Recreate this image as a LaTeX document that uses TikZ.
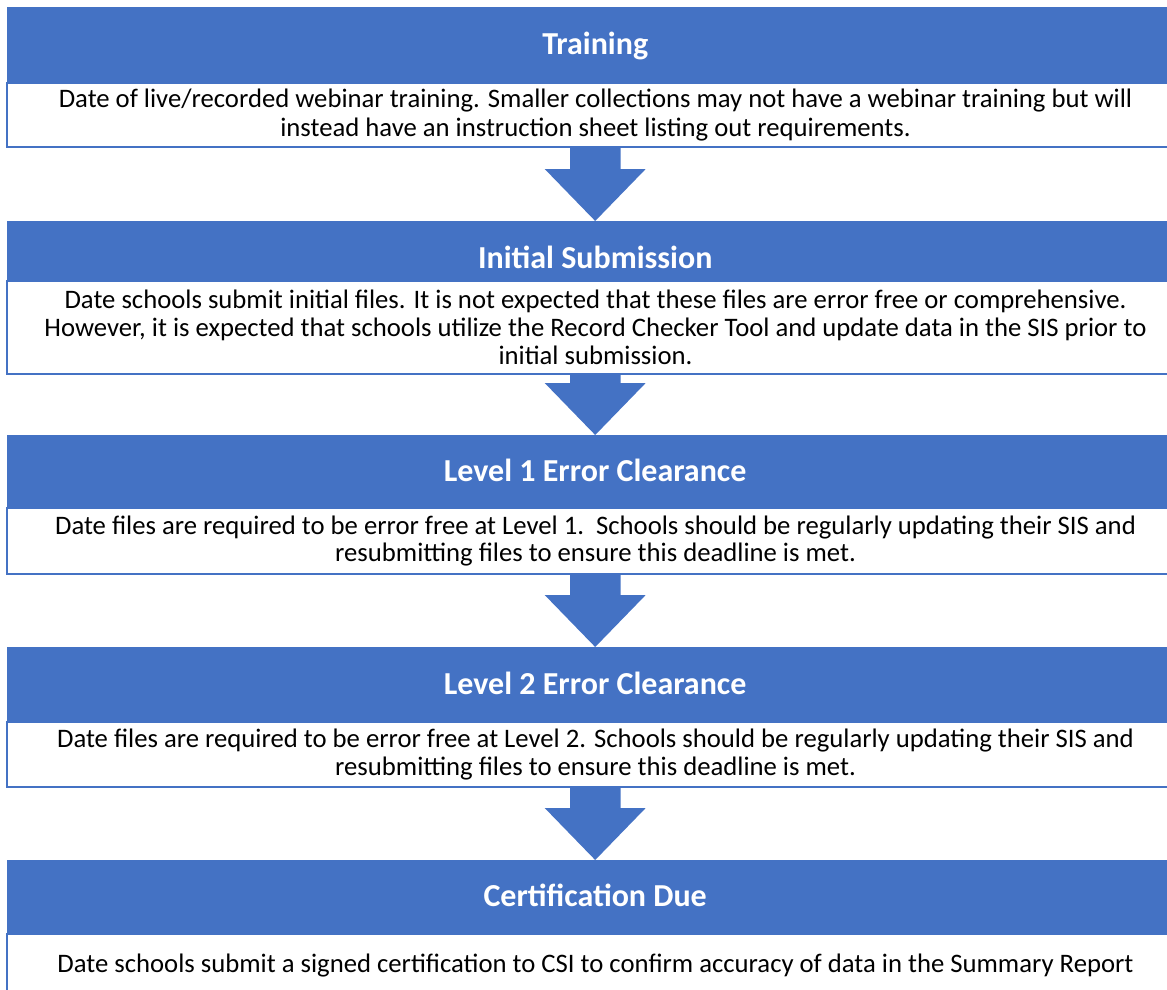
\documentclass[tikz,border=0pt]{standalone}
\usepackage{fontspec}
\setmainfont{Carlito}
\usepackage{xcolor}
\usepackage{tikz}
\usetikzlibrary{calc}
\definecolor{stepblue}{HTML}{4472C4}
\tikzset{
    phase/.style = {rectangle, anchor=north west, inner sep=0pt, minimum width=1176pt},
    head/.style = {phase, fill=stepblue, text=white, text height=26pt, text depth=6pt, font=\bfseries\fontsize{32}{36}\selectfont},
    body/.style = {phase, draw=stepblue, line width=2pt, fill=white, align=center, minimum width=1177pt, font=\fontsize{26.7}{27.8}\selectfont},
    blockarrow/.style = {fill=stepblue, draw=none}
}

\begin{document}
\begin{tikzpicture}[x=1pt, y=-1pt]
    \useasboundingbox (0,0) rectangle (1167,989);
    \clip (0,0) rectangle (1167,989);
    % text boxes
    \node [body, minimum height=64pt, font=\fontsize{26.7}{29}\selectfont] (b1) at (6,82) {Date of live/recorded webinar training. Smaller collections may not have a webinar training but will\\ instead have an instruction sheet listing out requirements.};
    \node [body, minimum height=93pt] (b2) at (6,280) {Date schools submit initial files. It is not expected that these files are error free or comprehensive.\\ However, it is expected that schools utilize the Record Checker Tool and update data in the SIS prior to\\ initial submission.};
    \node [body, minimum height=66pt] (b3) at (6,507) {Date files are required to be error free at Level 1.\ \ Schools should be regularly updating their SIS and\\ resubmitting files to ensure this deadline is met.};
    \node [body, minimum height=65pt] (b4) at (6,721) {Date files are required to be error free at Level 2. Schools should be regularly updating their SIS and\\ resubmitting files to ensure this deadline is met.};
    \node [body, minimum height=64pt] (b5) at (6,933) {Date schools submit a signed certification to CSI to confirm accuracy of data in the Summary Report};
    % headers
    \node [head, minimum height=75pt] (h1) at (7,7) {Training};
    \node [head, minimum height=59pt, text height=42pt] (h2) at (7,221) {Initial Submission};
    \node [head, minimum height=72pt] (h3) at (7,435) {Level 1 Error Clearance};
    \node [head, minimum height=74pt] (h4) at (7,647) {Level 2 Error Clearance};
    \node [head, minimum height=73pt] (h5) at (7,860) {Certification Due};
    % arrows
    \foreach \from/\to in {b1/h2, b2/h3, b3/h4, b4/h5}
        \fill [blockarrow] (\to.north) -- ++(-50.5,-52) -- ++(25.5,0) |- (\from.south)
            -- ++(25,0) |- ($(\to.north)+(50.5,-52)$) -- cycle;
\end{tikzpicture}
\end{document}
